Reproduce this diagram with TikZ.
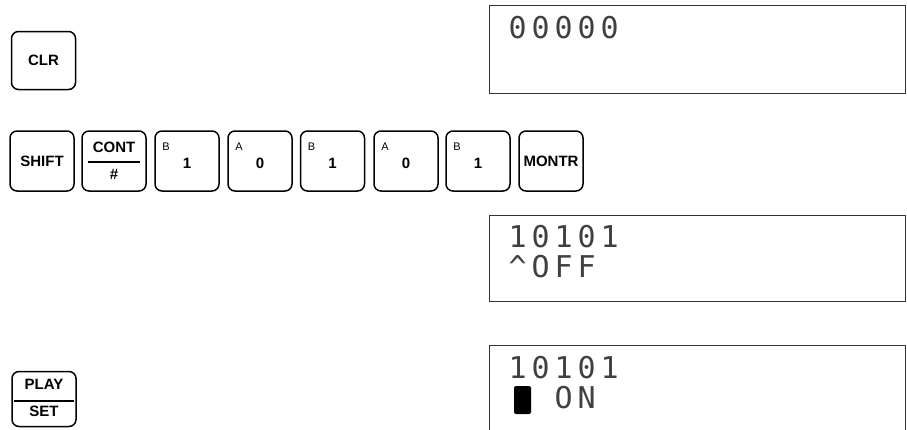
\documentclass[tikz,border=0pt]{standalone}
\usepackage{fontspec}
\setmainfont{Liberation Sans}
\newfontfamily\lcdfont{DejaVu Sans Mono}
\usetikzlibrary{calc}
\newcommand\lc[1]{\makebox[23pt][c]{#1}}
\begin{document}
\begin{tikzpicture}[x=1pt,y=-1pt,
  key/.style={draw, line width=1.5pt, rounded corners=7pt, inner sep=0pt,
    minimum width=64pt, minimum height=60pt, font=\fontsize{15}{15}\selectfont\bfseries},
  keytxt/.style={font=\fontsize{15}{15}\selectfont\bfseries, inner sep=0pt},
  smalltxt/.style={font=\fontsize{11}{11}\selectfont, inner sep=0pt},
  divider/.style={line width=2pt},
  lcd/.style={draw=black!80, line width=1pt, inner sep=0pt, minimum width=416pt},
  lcdtxt/.style={font=\fontsize{30}{30}\selectfont\lcdfont, text=black!75, inner sep=0pt, anchor=base west}]
\useasboundingbox (0,0) rectangle (907,429);
\clip (0,0) rectangle (907,429);
% CLR
\node[key, minimum height=58pt] (clr) at (43.5,60.5) {CLR};
% key row
\node[key] (shift) at (42,161) {SHIFT};
\node[key] (cont) at (114,161) {};
\node[keytxt] (contt) at ($(cont.center)+(0,-14)$) {CONT};
\draw[divider] ($(cont.west)+(7,1)$) -- ($(cont.east)+(-7,1)$);
\node[keytxt] (conth) at ($(cont.center)+(0,13)$) {\#};
\foreach \n/\x/\l/\d in {ka/187/B/1, kb/260/A/0, kc/332.5/B/1, kd/406/A/0, ke/478/B/1}{
  \node[key] (\n) at (\x,161) {};
  \node[smalltxt, anchor=north west] (\n-l) at ($(\n.north west)+(8,12)$) {\l};
  \node[keytxt] (\n-d) at ($(\n.center)+(0,2)$) {\d};
}
\node[key] (montr) at (551,161) {MONTR};
% PLAY/SET
\node[key, minimum height=55pt] (play) at (44,399) {};
\node[keytxt] (playt) at ($(play.center)+(0,-15)$) {PLAY};
\draw[divider] ($(play.west)+(3,2)$) -- ($(play.east)+(-3,2)$);
\node[keytxt] (sett) at ($(play.center)+(0,12.5)$) {SET};
% LCD displays
\node[lcd, minimum height=88pt] (lcd1) at (697.5,49.5) {};
\node[lcd, minimum height=86pt] (lcd2) at (697.5,258.5) {};
\node[lcd, minimum height=100pt] (lcd3) at (697.5,395.5) {};
\node[lcdtxt] (t1) at (506,38) {\lc0\lc0\lc0\lc0\lc0};
\node[lcdtxt] (t2) at (506,247) {\lc1\lc0\lc1\lc0\lc1};
\node[lcdtxt] (t3) at (506,277) {\lc{\textasciicircum}\lc O\lc F\lc F};
\node[lcdtxt] (t4) at (506,378) {\lc1\lc0\lc1\lc0\lc1};
\node[lcdtxt] (t5) at (506,408) {\lc{}\lc{}\lc O\lc N};
\node[fill=black, rounded corners=2pt, inner sep=0pt, minimum width=17pt, minimum height=28pt] (cur) at (522.5,400) {};
\end{tikzpicture}
\end{document}
